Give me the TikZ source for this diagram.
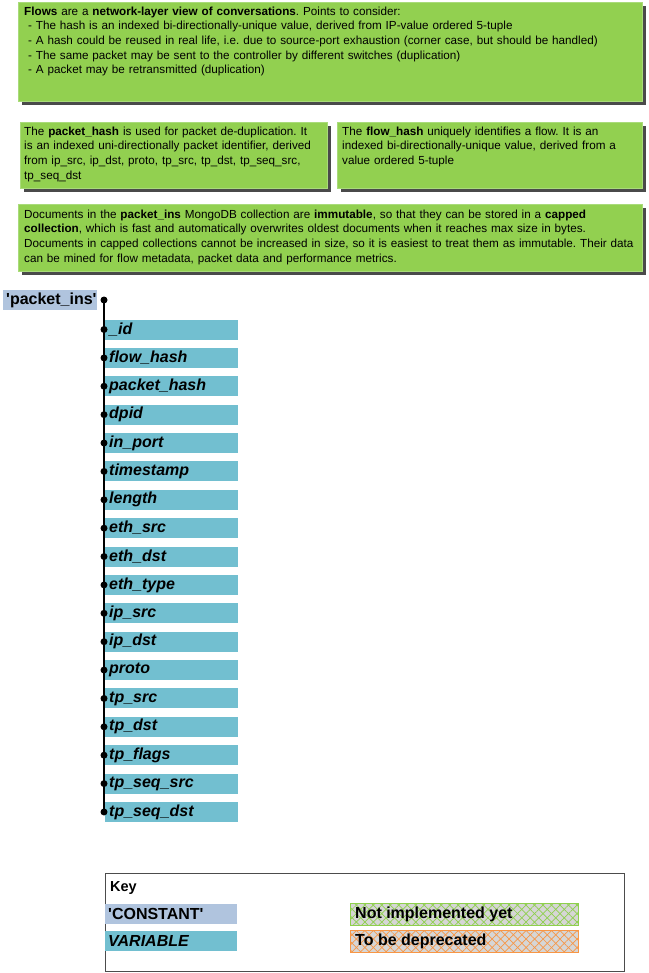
\documentclass[tikz,border=0pt]{standalone}
\usepackage{fontspec}
\setmainfont{Liberation Sans}
\usetikzlibrary{patterns.meta}
\definecolor{notegreen}{HTML}{92D050}
\definecolor{noteborder}{HTML}{A9DB7A}
\definecolor{shadowgray}{HTML}{4A4A4A}
\definecolor{constblue}{HTML}{B0C4DE}
\definecolor{varcyan}{HTML}{72BFD0}
\definecolor{hatchgray}{HTML}{D6D6D6}
\definecolor{hatchgreen}{HTML}{8ED04C}
\definecolor{hatchorange}{HTML}{F79646}
\newcommand\mynohyph{\hyphenpenalty10000\relax}
\tikzset{
  notebox/.style={fill=notegreen, draw=noteborder, line width=0.8pt},
  noteshadow/.style={fill=shadowgray, draw=none},
  notetext/.style={anchor=north west, inner sep=0pt, align=left, text width=#1,
    font=\fontsize{11.7}{14.7}\selectfont\frenchspacing\mynohyph},
  fieldbox/.style={fill=varcyan, draw=none, minimum width=133pt, minimum height=20pt,
    anchor=west, inner xsep=4pt, inner ysep=0pt, text width=125pt, align=left,
    font=\fontsize{16}{17}\selectfont\bfseries\itshape},
  constbox/.style={fill=constblue, draw=none, minimum height=20pt, anchor=west,
    inner xsep=3pt, inner ysep=0pt, font=\fontsize{16}{17}\selectfont\bfseries},
  dot/.style={circle, fill=black, inner sep=0pt, minimum size=7pt},
  hatched/.style={pattern={Lines[angle=45,distance=6pt,line width=0.7pt]}, pattern color=#1},
  hatched2/.style={pattern={Lines[angle=-45,distance=6pt,line width=0.7pt]}, pattern color=#1},
  keytext/.style={anchor=west, inner sep=0pt, font=\fontsize{16}{17}\selectfont\bfseries},
}
\begin{document}
\begin{tikzpicture}[x=1pt,y=-1pt]
\useasboundingbox (0,0) rectangle (648,973);
% note 1
\fill[noteshadow] (22,6) rectangle (646,105);
\draw[notebox] (18,2) rectangle (642,101);
\node[notetext=615pt] (n1) at (24,6.5) {\textbf{Flows} are a \textbf{network-layer view of conversations}. Points to consider:\\
\ - The hash is an indexed bi-directionally-unique value, derived from IP-value ordered 5-tuple\\
\ - A hash could be reused in real life, i.e. due to source-port exhaustion (corner case, but should be handled)\\
\ - The same packet may be sent to the controller by different switches (duplication)\\
\ - A packet may be retransmitted (duplication)};
% note 2
\fill[noteshadow] (24,126) rectangle (331,192);
\draw[notebox] (20,122) rectangle (327,188);
\node[notetext=298pt] (n2) at (24,126.5) {The \textbf{packet\_hash} is used for packet de-duplication. It is an indexed uni-directionally packet identifier, derived from ip\_src, ip\_dst, proto, tp\_src, tp\_dst, tp\_seq\_src, tp\_seq\_dst};
% note 3
\fill[noteshadow] (341,126) rectangle (646,192);
\draw[notebox] (337,122) rectangle (642,188);
\node[notetext=290pt] (n3) at (342,126.5) {The \textbf{flow\_hash} uniquely identifies a flow. It is an indexed bi-directionally-unique value, derived from a value ordered 5-tuple};
% note 4
\fill[noteshadow] (22,208) rectangle (646,275);
\draw[notebox] (18,204) rectangle (642,271);
\node[notetext=616pt] (n4) at (24,209.5) {Documents in the \textbf{packet\_ins} MongoDB collection are \textbf{immutable}, so that they can be stored in a \textbf{capped collection}, which is fast and automatically overwrites oldest documents when it reaches max size in bytes. Documents in capped collections cannot be increased in size, so it is easiest to treat them as immutable. Their data can be mined for flow metadata, packet data and performance metrics.};
% root
\node[constbox, minimum width=94pt, text width=88pt, align=left] (root) at (3,300) {\textquotesingle packet\_ins\textquotesingle};
\node[dot] (rd) at (104,300) {};
% fields
\foreach \name [count=\i] in {\_id,flow\_hash,packet\_hash,dpid,in\_port,timestamp,length,eth\_src,eth\_dst,eth\_type,ip\_src,ip\_dst,proto,tp\_src,tp\_dst,tp\_flags,tp\_seq\_src,tp\_seq\_dst}{
  \node[fieldbox] (f\i) at (105,{329.5+(\i-1)*28.38}) {\name};
  \node[dot] (d\i) at (104,{329.5+(\i-1)*28.38}) {};
}
\draw[line width=1.6pt] (rd.center) -- (d18.center);
% key
\draw[draw=black!70, line width=0.8pt] (105,873) rectangle (624,971);
\node[anchor=west, inner sep=0pt, font=\fontsize{14.5}{16}\selectfont\bfseries] (keyt) at (110,888) {Key};
\node[constbox, minimum width=132pt, text width=126pt, align=left] (kc) at (105,914) {\textquotesingle CONSTANT\textquotesingle};
\node[fieldbox, minimum width=132pt, text width=126pt, inner xsep=3pt] (kv) at (105,941) {VARIABLE};
\fill[hatchgray] (350,903) rectangle (578,925);
\fill[hatched=hatchgreen] (350,903) rectangle (578,925);
\fill[hatched2=hatchgreen] (350,903) rectangle (578,925);
\draw[hatchgreen, line width=1pt] (350,903) rectangle (578,925);
\node[keytext] (kn) at (355,914) {Not implemented yet};
\fill[hatchgray] (350,930) rectangle (578,952);
\fill[hatched=hatchorange] (350,930) rectangle (578,952);
\fill[hatched2=hatchorange] (350,930) rectangle (578,952);
\draw[hatchorange, line width=1pt] (350,930) rectangle (578,952);
\node[keytext] (kd) at (355,941) {To be deprecated};
\end{tikzpicture}
\end{document}
